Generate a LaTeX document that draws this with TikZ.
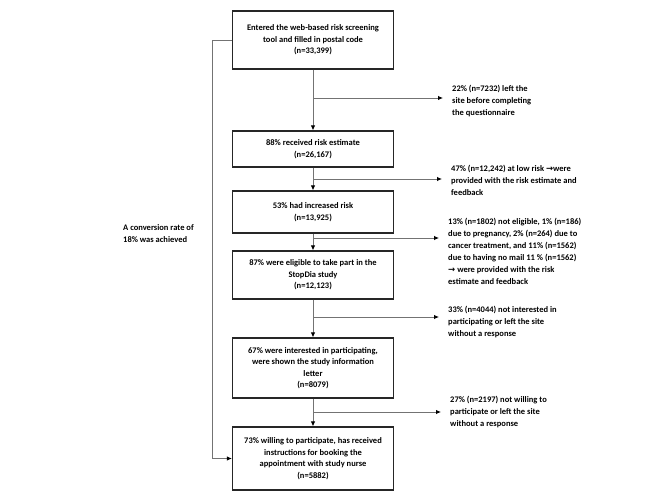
\documentclass[tikz,border=0pt]{standalone}
\usepackage{fontspec}
\setmainfont{Carlito}
\newfontfamily\arrowfont{DejaVu Sans}
\usetikzlibrary{arrows.meta, positioning}
\newcommand{\thn}{{\arrowfont\bfseries →}}

\begin{document}
\begin{tikzpicture}[x=1pt,y=-1pt,
box/.style={draw=black!85, line width=1.2pt, minimum width=161pt, align=center,
  font=\bfseries\fontsize{8.5}{11.5}\selectfont, inner sep=2pt},
note/.style={anchor=west, align=left, inner xsep=9pt, inner ysep=0pt,
  font=\bfseries\fontsize{8.5}{12}\selectfont},
flow/.style={draw=black!55, line width=0.9pt, -{Latex[length=5pt,width=4.5pt,black]}},
]
\useasboundingbox (0,0) rectangle (666,497);

%main boxes
\node[box, minimum height=58pt] (b1) at (313,40) {Entered the web-based risk screening\\ tool and filled in postal code\\ (n=33,399)};
\node[box, minimum height=36pt] (b2) at (313,149) {88\% received risk estimate\\ (n=26,167)};
\node[box, minimum height=42pt] (b3) at (313,212) {53\% had increased risk\\ (n=13,925)};
\node[box, minimum height=48pt] (b4) at (313,275) {87\% were eligible to take part in the\\ StopDia study\\ (n=12,123)};
\node[box, minimum height=60pt] (b5) at (313,368) {67\% were interested in participating,\\ were shown the study information\\ letter\\ (n=8079)};
\node[box, minimum height=63pt] (b6) at (313,458.5) {73\% willing to participate, has received\\ instructions for booking the\\ appointment with study nurse\\ (n=5882)};

%side notes
\node[note] (t1) at (443,101) {22\% (n=7232) left the\\ site before completing\\ the questionnaire};
\node[note] (t2) at (442,180) {47\% (n=12,242) at low risk \thn were\\ provided with the risk estimate and\\ feedback};
\node[note] (t3) at (439,251) {13\% (n=1802) not eligible, 1\% (n=186)\\ due to pregnancy, 2\% (n=264) due to\\ cancer treatment, and 11\% (n=1562)\\ due to having no mail 11 \% (n=1562)\\ \thn{} were provided with the risk\\ estimate and feedback};
\node[note] (t4) at (439,322) {33\% (n=4044) not interested in\\ participating or left the site\\ without a response};
\node[note] (t5) at (441,412) {27\% (n=2197) not willing to\\ participate or left the site\\ without a response};

\node[anchor=west, align=left, inner sep=2pt, font=\bfseries\fontsize{8.5}{12}\selectfont] (conv) at (121,234) {A conversion rate of\\ 18\% was achieved};

%branch points
\coordinate (s1) at (313,98);
\coordinate (s2) at (313,179);
\coordinate (s3) at (313,238);
\coordinate (s4) at (313,317);
\coordinate (s5) at (313,412);

%arrows
\draw[flow] (b1) -- (b2);
\draw[flow] (b2) -- (b3);
\draw[flow] (b3) -- (b4);
\draw[flow] (b4) -- (b5);
\draw[flow] (b5) -- (b6);

\draw[flow] (s1) -- (s1 -| t1.west);
\draw[flow] (s2) -- (s2 -| t2.west);
\draw[flow] (s3) -- (s3 -| t3.west);
\draw[flow] (s4) -- (s4 -| t4.west);
\draw[flow] (s5) -- (s5 -| t5.west);

\draw[flow] (b1.west) -- ++(-19,0) |- (b6.west);
\end{tikzpicture}
\end{document}
